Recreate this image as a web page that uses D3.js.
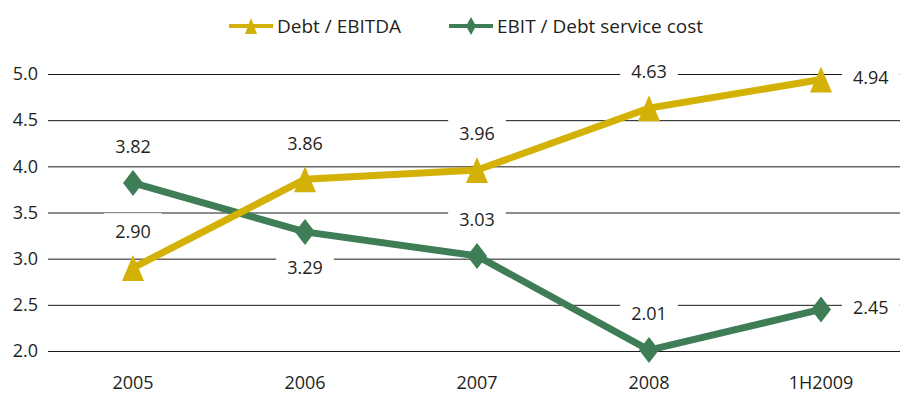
<!DOCTYPE html>
<html>
<head>
<meta charset="utf-8">
<script src="https://cdnjs.cloudflare.com/ajax/libs/d3/7.8.5/d3.min.js"></script>
<style>
  body { margin: 0; background: #fff; }
  text { font-family: "Open Sans", sans-serif; fill: #231f20; }
</style>
</head>
<body>
<script>
// chart data
var categories = ["2005", "2006", "2007", "2008", "1H2009"];
var debtEbitda = [2.90, 3.86, 3.96, 4.63, 4.94];
var ebitDebtService = [3.82, 3.29, 3.03, 2.01, 2.45];
var yTicks = [2.0, 2.5, 3.0, 3.5, 4.0, 4.5, 5.0];
var seriesNames = ["Debt / EBITDA", "EBIT / Debt service cost"];

// where each value label sits relative to its marker
var debtLabelPos = ["above", "above", "above", "above", "right"];
var ebitLabelPos = ["above", "below", "above", "above", "right"];

var W = 900, H = 394;
var yellow = "#d4b106", green = "#3e7d56";

var svg = d3.select("body").append("svg")
  .attr("width", W)
  .attr("height", H);

var x = d3.scaleBand().domain(categories).range([47, 907]);
var y = d3.scaleLinear().domain([2, 5]).range([351, 74]);
var cx = function(c) { return x(c) + x.bandwidth() / 2; };

// gridlines + y labels
var yAxis = svg.append("g")
  .attr("transform", "translate(48,0)")
  .call(d3.axisLeft(y).tickValues(yTicks).tickFormat(d3.format(".1f")).tickSize(-(W - 48)).tickPadding(10));
yAxis.select(".domain").remove();
yAxis.selectAll("line").attr("stroke", "#1a1a1a").attr("stroke-width", 1);
yAxis.selectAll("text").style("font-size", "18px").attr("fill", "#231f20");

// x labels
var xAxis = svg.append("g")
  .attr("transform", "translate(0,351)")
  .call(d3.axisBottom(x).tickSize(0).tickPadding(25));
xAxis.select(".domain").remove();
xAxis.selectAll("text").style("font-size", "18px").attr("fill", "#231f20");

var line = d3.line()
  .x(function(d, i) { return cx(categories[i]); })
  .y(function(d) { return y(d); });

var triangle = "M0,-13L11,13L-11,13Z";
var diamond = "M0,-13L10,0L0,13L-10,0Z";

function drawLabels(values, pos) {
  var g = svg.append("g");
  values.forEach(function(v, i) {
    var px = cx(categories[i]), py = y(v);
    var tx = px, ty = py - 36, anchor = "middle";
    if (pos[i] == "below") { ty = py + 36; }
    if (pos[i] == "right") { tx = px + 32; ty = py - 2; anchor = "start"; }
    var t = g.append("text")
      .attr("x", tx).attr("y", ty)
      .attr("dy", "0.35em")
      .attr("text-anchor", anchor)
      .style("font-size", "18px")
      .text(d3.format(".2f")(v));
    var b = t.node().getBBox();
    g.insert("rect", "text")
      .attr("x", b.x - 11).attr("y", b.y - 6)
      .attr("width", b.width + 22).attr("height", b.height + 12)
      .attr("fill", "#fff");
  });
}

drawLabels(debtEbitda, debtLabelPos);
drawLabels(ebitDebtService, ebitLabelPos);

function drawSeries(values, color, shape) {
  svg.append("path")
    .datum(values)
    .attr("d", line)
    .attr("fill", "none")
    .attr("stroke", color)
    .attr("stroke-width", 7);
  svg.append("g").selectAll("path")
    .data(values)
    .join("path")
    .attr("transform", function(d, i) { return "translate(" + cx(categories[i]) + "," + y(d) + ")"; })
    .attr("d", shape)
    .attr("fill", color);
}

drawSeries(ebitDebtService, green, diamond);
drawSeries(debtEbitda, yellow, triangle);

// legend
var legend = svg.append("g").attr("transform", "translate(0,26)");
var items = [
  { name: seriesNames[0], color: yellow, shape: "M0,-8L6,8L-6,8Z", x0: 229 },
  { name: seriesNames[1], color: green, shape: "M0,-9L5,0L0,9L-5,0Z", x0: 449 }
];
items.forEach(function(it) {
  legend.append("line")
    .attr("x1", it.x0).attr("x2", it.x0 + 44)
    .attr("stroke", it.color).attr("stroke-width", 4);
  legend.append("path")
    .attr("transform", "translate(" + (it.x0 + 22) + ",0)")
    .attr("d", it.shape)
    .attr("fill", it.color);
  legend.append("text")
    .attr("x", it.x0 + 48)
    .attr("dy", "0.35em")
    .style("font-size", "19px")
    .text(it.name);
});
</script>
</body>
</html>
